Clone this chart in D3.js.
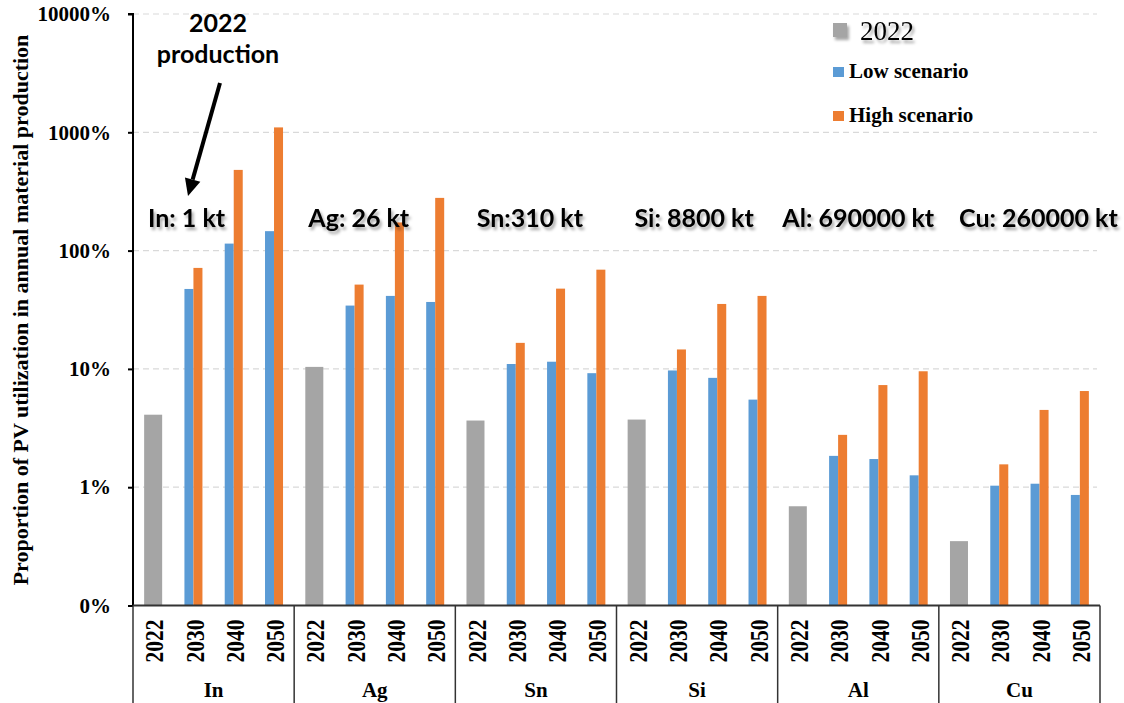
<!DOCTYPE html>
<html>
<head>
<meta charset="utf-8">
<script src="https://cdn.jsdelivr.net/npm/d3@7/dist/d3.min.js"></script>
<style>
  html, body { margin: 0; padding: 0; background: #fff; }
  svg { display: block; }
</style>
</head>
<body>
<svg id="chart" width="1124" height="703"></svg>
<script>
// ---------------- data ----------------
const metals = ["In", "Ag", "Sn", "Si", "Al", "Cu"];
const years = ["2022", "2030", "2040", "2050"];
// 2022 share of production (%)
const share2022 = [4.1, 10.4, 3.66, 3.73, 0.69, 0.35];
// Low scenario (%), per metal: 2030, 2040, 2050
const lowScenario = [
  47.4, 114.6, 146,
  34.3, 41.4, 36.8,
  11.0, 11.5, 9.2,
  9.7, 8.4, 5.5,
  1.84, 1.73, 1.26,
  1.03, 1.07, 0.86
];
// High scenario (%), per metal: 2030, 2040, 2050
const highScenario = [
  71.4, 481, 1100,
  51.6, 173, 279,
  16.6, 47.7, 69,
  14.6, 35.4, 41.4,
  2.77, 7.3, 9.55,
  1.56, 4.5, 6.5
];
const productionLabels = ["In: 1 kt", "Ag: 26 kt", "Sn:310 kt", "Si: 8800 kt", "Al: 690000 kt", "Cu: 260000 kt"];
const yTickValues = [0.1, 1, 10, 100, 1000, 10000];
const yTickLabels = ["0%", "1%", "10%", "100%", "1000%", "10000%"];
const legendLabels = ["2022", "Low scenario", "High scenario"];
const colors = { base: "#A5A5A5", low: "#5B9BD5", high: "#ED7D31" };

// ---------------- layout ----------------
const svg = d3.select("#chart");
const plot = { left: 133, right: 1100, top: 14, bottom: 605.5 };
const serif = "'Liberation Serif', 'Times New Roman', serif";
const sans = "Lato, 'Open Sans', sans-serif";

const defs = svg.append("defs");
const f = defs.append("filter").attr("id", "shadow")
  .attr("x", "-10%").attr("y", "-50%").attr("width", "130%").attr("height", "220%");
f.append("feDropShadow").attr("dx", 2).attr("dy", 3).attr("stdDeviation", 1.6)
  .attr("flood-color", "#000").attr("flood-opacity", 0.35);

const cats = [];
metals.forEach(m => years.forEach(yr => cats.push(m + "-" + yr)));

const x = d3.scaleBand().domain(cats).range([plot.left, plot.right]).paddingInner(0.553).paddingOuter(0.2765);
const xg = d3.scaleBand().domain(metals).range([plot.left, plot.right]);
const y = d3.scaleLog().domain([0.1, 10000]).range([plot.bottom, plot.top]);

// gridlines
svg.append("g").selectAll("line").data(yTickValues.slice(1)).join("line")
  .attr("x1", plot.left).attr("x2", plot.right - 3)
  .attr("y1", d => y(d)).attr("y2", d => y(d))
  .attr("stroke", "#d9d9d9").attr("stroke-width", 1.2).attr("stroke-dasharray", "6,4");

// bars
const bars = [];
metals.forEach((m, i) => {
  bars.push({ key: m + "-2022", v: share2022[i], type: "base" });
  for (let j = 0; j < 3; j++) {
    bars.push({ key: m + "-" + years[j + 1], v: lowScenario[i * 3 + j], type: "low" });
    bars.push({ key: m + "-" + years[j + 1], v: highScenario[i * 3 + j], type: "high" });
  }
});
const bw = x.bandwidth();
svg.append("g").selectAll("rect").data(bars).join("rect")
  .attr("x", d => d.type === "high" ? x(d.key) + bw / 2 : x(d.key))
  .attr("width", d => d.type === "base" ? bw : bw / 2)
  .attr("y", d => y(d.v))
  .attr("height", d => y(0.1) - y(d.v))
  .attr("fill", d => colors[d.type]);

// y axis
const yAxis = d3.axisLeft(y).tickValues(yTickValues)
  .tickFormat((d, i) => yTickLabels[i]).tickSize(5).tickPadding(17);
const gy = svg.append("g").attr("transform", `translate(${plot.left},0)`).call(yAxis);
gy.select(".domain").attr("stroke", "#000").attr("stroke-width", 2).attr("d", `M-5,${plot.top}H0V${plot.bottom}`);
gy.selectAll(".tick line").attr("stroke", "#000").attr("stroke-width", 2);
gy.selectAll(".tick text").attr("font-family", serif).attr("font-weight", "bold")
  .attr("font-size", 21).attr("fill", "#000");

// x axis (two levels)
const gx = svg.append("g");
gx.append("line").attr("x1", plot.left).attr("x2", plot.right)
  .attr("y1", plot.bottom).attr("y2", plot.bottom).attr("stroke", "#333").attr("stroke-width", 2);
const bounds = metals.map(m => xg(m)).concat([plot.right]);
gx.selectAll("line.sep").data(bounds).join("line").attr("class", "sep")
  .attr("x1", d => d).attr("x2", d => d).attr("y1", plot.bottom).attr("y2", 703)
  .attr("stroke", "#333").attr("stroke-width", 1.5);
gx.selectAll("text.yr").data(cats).join("text").attr("class", "yr")
  .attr("transform", d => `translate(${x(d) + bw / 2 + 1},641) rotate(-90)`)
  .attr("text-anchor", "middle").attr("dy", "0.35em")
  .attr("font-family", serif).attr("font-weight", "bold").attr("font-size", 26)
  .attr("textLength", 43).attr("lengthAdjust", "spacingAndGlyphs")
  .text(d => d.split("-")[1]);
gx.selectAll("text.metal").data(metals).join("text").attr("class", "metal")
  .attr("x", d => xg(d) + xg.bandwidth() / 2).attr("y", 697)
  .attr("text-anchor", "middle")
  .attr("font-family", serif).attr("font-weight", "bold").attr("font-size", 21)
  .text(d => d);

// y axis title
svg.append("text")
  .attr("transform", "translate(28,310) rotate(-90)")
  .attr("text-anchor", "middle")
  .attr("font-family", serif).attr("font-weight", "bold").attr("font-size", 22)
  .text("Proportion of PV utilization in annual material production");

// 100% dashed line
svg.append("line")
  .attr("x1", plot.left + 7).attr("x2", plot.right + 13)
  .attr("y1", y(100)).attr("y2", y(100))
  .attr("stroke", "#000").attr("stroke-width", 4.5).attr("stroke-dasharray", "14,5.5")
  .attr("filter", "url(#shadow)");

// production annotations
const labelOffsets = [-27, -16, -6, -3, 0, 19];
svg.append("g").selectAll("text").data(productionLabels).join("text")
  .attr("x", (d, i) => xg(metals[i]) + xg.bandwidth() / 2 + labelOffsets[i])
  .attr("y", 227)
  .attr("text-anchor", "middle")
  .attr("font-family", sans).attr("font-weight", "bold").attr("font-size", 25)
  .attr("fill", "#000").attr("filter", "url(#shadow)")
  .text(d => d);

// "2022 production" + arrow
const ann = svg.append("g").attr("font-family", sans).attr("font-weight", "bold")
  .attr("font-size", 25).attr("text-anchor", "middle");
ann.append("text").attr("x", 218).attr("y", 32).text("2022");
ann.append("text").attr("x", 218).attr("y", 63).text("production");
const ax0 = 220, ay0 = 83, ax1 = 188, ay1 = 196;
const ang = Math.atan2(ay1 - ay0, ax1 - ax0);
const headL = 17, headW = 8;
const bx = ax1 - headL * Math.cos(ang), by = ay1 - headL * Math.sin(ang);
svg.append("line").attr("x1", ax0).attr("y1", ay0).attr("x2", bx).attr("y2", by)
  .attr("stroke", "#000").attr("stroke-width", 4);
svg.append("path")
  .attr("d", `M${ax1},${ay1}L${bx + headW * Math.sin(ang)},${by - headW * Math.cos(ang)}L${bx - headW * Math.sin(ang)},${by + headW * Math.cos(ang)}Z`)
  .attr("fill", "#000");

// legend
const lg = svg.append("g");
const g0 = lg.append("g").attr("filter", "url(#shadow)");
g0.append("rect").attr("x", 833).attr("y", 23).attr("width", 14).attr("height", 14).attr("fill", colors.base);
g0.append("text").attr("x", 860).attr("y", 40).attr("font-family", serif).attr("font-size", 27).text(legendLabels[0]);
[["low", 67, 78, legendLabels[1]], ["high", 111, 122, legendLabels[2]]].forEach(([k, ry, ty, lab]) => {
  lg.append("rect").attr("x", 833).attr("y", ry).attr("width", 11).attr("height", 10).attr("fill", colors[k]);
  lg.append("text").attr("x", 849).attr("y", ty).attr("font-family", serif).attr("font-weight", "bold")
    .attr("font-size", 21).text(lab);
});
</script>
</body>
</html>
